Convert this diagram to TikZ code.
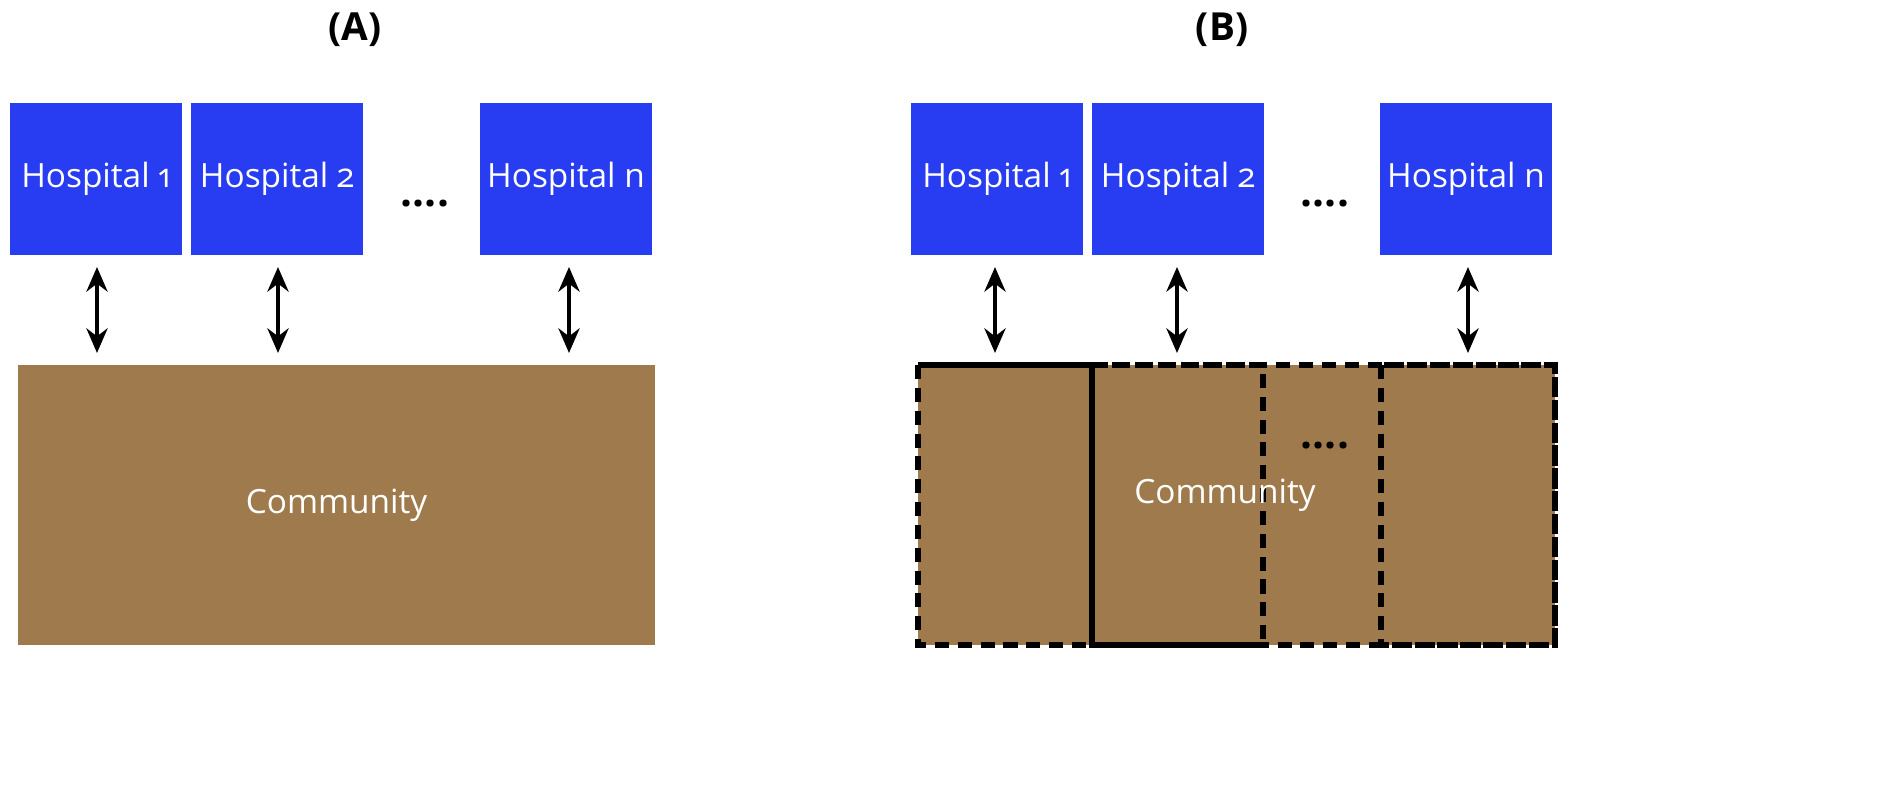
\documentclass[tikz,border=0pt]{standalone}
\usepackage{fontspec}
\setmainfont{Open Sans}
\usetikzlibrary{arrows.meta}
\definecolor{hospblue}{HTML}{283CF2}
\definecolor{commbrown}{HTML}{9E7A4D}
\tikzset{
	hosp/.style={shape=rectangle,fill=hospblue,text=white,minimum width=3.44cm,minimum height=3.04cm,inner sep=0pt,font=\fontsize{19}{22}\selectfont\addfontfeatures{Numbers=OldStyle}},
	link/.style={{Stealth[length=14pt,width=12pt]}-{Stealth[length=14pt,width=12pt]},line width=2.8pt},
	part/.style={draw=black,dash pattern=on 8pt off 5pt,line width=3pt},
	ttl/.style={font=\fontsize{22}{26}\selectfont\bfseries},
	dots/.style={font=\fontsize{24}{26}\selectfont\bfseries}
}
\begin{document}
\begin{tikzpicture}[x=0.02cm,y=-0.02cm]
	\useasboundingbox (0,0) rectangle (1898,800);
	% panel A
	\node[ttl] (TA) at (355,30) {(A)};
	\node[hosp] (A1) at (96,179) {Hospital 1};
	\node[hosp] (A2) at (277,179) {Hospital 2};
	\node[hosp] (An) at (566,179) {Hospital n};
	\node[dots] (Ad) at (425,204) {....};
	\node[shape=rectangle,fill=commbrown,text=white,minimum width=12.74cm,minimum height=5.6cm,inner sep=0pt,font=\fontsize{19}{22}\selectfont] (AC) at (336.5,505) {Community};
	\coordinate (Ah1) at (97,267);
	\coordinate (Ah2) at (278,267);
	\coordinate (Ahn) at (569,267);
	\coordinate (Ac1) at (97,353);
	\coordinate (Ac2) at (278,353);
	\coordinate (Acn) at (569,353);
	\draw[link] (Ah1) -- (Ac1);
	\draw[link] (Ah2) -- (Ac2);
	\draw[link] (Ahn) -- (Acn);
	% panel B
	\node[ttl] (TB) at (1222,30) {(B)};
	\node[hosp] (B1) at (997,179) {Hospital 1};
	\node[hosp] (B2) at (1178,179) {Hospital 2};
	\node[hosp] (Bn) at (1466,179) {Hospital n};
	\node[dots] (Bd) at (1325,204) {....};
	\fill[commbrown] (918,365) rectangle (1555,645);
	\draw[part] (918,365) rectangle (1555,645);
	\draw[part] (918,365) rectangle (1092,645);
	\draw[part] (1092,365) rectangle (1263,645);
	\draw[part] (1381,365) rectangle (1555,645);
	\node[text=white,font=\fontsize{19}{22}\selectfont] (BC) at (1225,495) {Community};
	\node[dots] (Bcd) at (1325,446) {....};
	\coordinate (Bh1) at (995,267);
	\coordinate (Bh2) at (1177,267);
	\coordinate (Bhn) at (1468,267);
	\coordinate (Bc1) at (995,353);
	\coordinate (Bc2) at (1177,353);
	\coordinate (Bcn) at (1468,353);
	\draw[link] (Bh1) -- (Bc1);
	\draw[link] (Bh2) -- (Bc2);
	\draw[link] (Bhn) -- (Bcn);
\end{tikzpicture}
\end{document}
